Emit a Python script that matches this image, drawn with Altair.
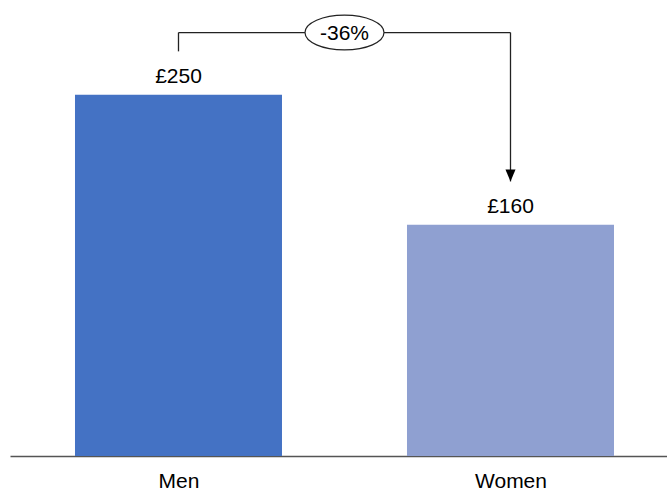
import altair as alt
import pandas as pd

# Average weekly pay by gender
categories = ["Men", "Women"]
values = [250, 160]
bar_colors = ["#4472C4", "#8FA0D1"]

# Annotation: percentage gap from Men to Women
gap_label = "{:+.0f}%".format((values[1] - values[0]) / values[0] * 100).replace("+", "")
bracket_gap = 30      # distance (in £) between a bar top and the bracket end
bracket_rise = 13     # extra height of the bracket's horizontal arm above the start

FONT = "Liberation Sans"

positions = list(range(len(categories)))
bars_df = pd.DataFrame({
    "pos": positions,
    "category": categories,
    "value": values,
    "label": ["£{}".format(v) for v in values],
    "color": bar_colors,
})

start_y = values[0] + bracket_gap
top_y = start_y + bracket_rise
end_y = values[1] + bracket_gap

segments_df = pd.DataFrame({
    "x": [positions[0], positions[0], positions[1]],
    "x2": [positions[0], positions[1], positions[1]],
    "y": [start_y, top_y, top_y],
    "y2": [top_y, top_y, end_y],
})
arrow_df = pd.DataFrame({"x": [positions[1]], "y": [end_y]})
badge_df = pd.DataFrame({"x": [(positions[0] + positions[1]) / 2], "y": [top_y], "text": [gap_label]})

label_expr = " : ".join(
    "datum.value == {} ? '{}'".format(p, c) for p, c in zip(positions, categories)
) + " : ''"

x_scale = alt.Scale(domain=[-0.5075, 1.4714], nice=False, zero=False, padding=0)
y_scale = alt.Scale(domain=[0, 310], nice=False, padding=0)

x_axis = alt.Axis(
    values=positions, labelExpr=label_expr, title=None, grid=False, ticks=False,
    tickSize=0, domainColor="#555555", domainWidth=1.5, labelFontSize=21,
    labelFont=FONT, labelColor="#000000", labelPadding=31,
    labelBaseline="alphabetic", labelAngle=0,
)

base = alt.Chart(bars_df)

bars = base.mark_bar(size=207).encode(
    x=alt.X("pos:Q", scale=x_scale, axis=x_axis),
    y=alt.Y("value:Q", scale=y_scale, axis=None),
    color=alt.Color("color:N", scale=None, legend=None),
)

value_labels = base.mark_text(
    baseline="alphabetic", dy=-12, fontSize=21, font=FONT, color="#000000"
).encode(
    x=alt.X("pos:Q", scale=x_scale),
    y=alt.Y("value:Q", scale=y_scale),
    text="label:N",
)

bracket = alt.Chart(segments_df).mark_rule(color="#222222", strokeWidth=1.3).encode(
    x=alt.X("x:Q", scale=x_scale),
    x2="x2:Q",
    y=alt.Y("y:Q", scale=y_scale),
    y2="y2:Q",
)

arrow_head = alt.Chart(arrow_df).mark_point(
    shape="M-0.42,-1L0.42,-1L0,0Z", size=576, filled=True, color="#000000", opacity=1
).encode(
    x=alt.X("x:Q", scale=x_scale),
    y=alt.Y("y:Q", scale=y_scale),
)

ellipse = alt.Chart(badge_df).mark_point(
    shape="M-1,0A1,0.44,0,1,1,1,0A1,0.44,0,1,1,-1,0Z", size=6241,
    filled=False, fill="#ffffff", fillOpacity=1, stroke="#222222", strokeWidth=1.2, opacity=1,
).encode(
    x=alt.X("x:Q", scale=x_scale),
    y=alt.Y("y:Q", scale=y_scale),
)

badge_text = alt.Chart(badge_df).mark_text(
    baseline="middle", dy=1, fontSize=21, font=FONT, color="#000000"
).encode(
    x=alt.X("x:Q", scale=x_scale),
    y=alt.Y("y:Q", scale=y_scale),
    text="text:N",
)

chart = alt.layer(bars, value_labels, bracket, arrow_head, ellipse, badge_text).properties(
    width=657,
    height=448,
    autosize=alt.AutoSizeParams(type="none"),
    padding={"left": 10, "right": 0, "top": 8, "bottom": 32},
    background="#ffffff",
).configure_view(stroke=None)

chart.save("out.html", embed_options={"renderer": "svg", "actions": False})
